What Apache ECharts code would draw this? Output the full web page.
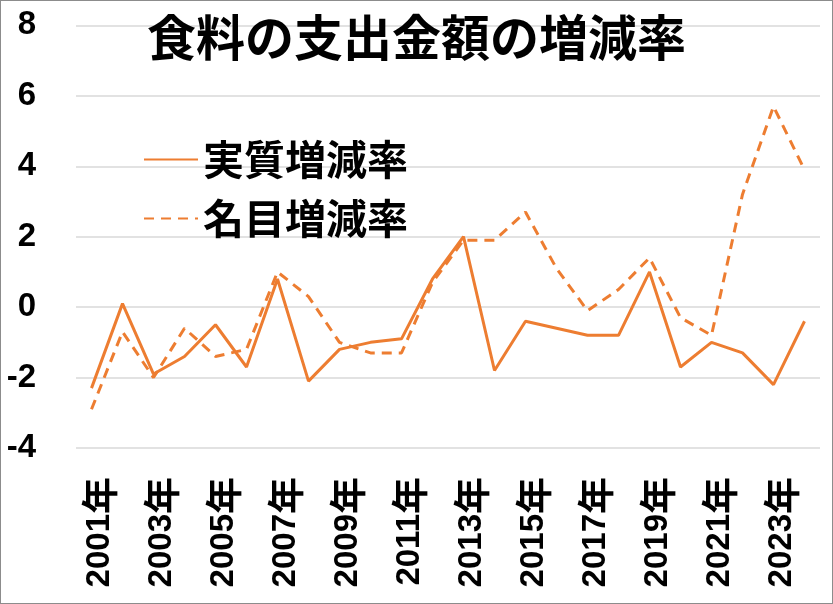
<!DOCTYPE html>
<html>
<head>
<meta charset="utf-8">
<script src="https://cdn.jsdelivr.net/npm/echarts@6/dist/echarts.min.js"></script>
<style>
html,body{margin:0;padding:0;background:#fff;}
#wrap{position:relative;width:833px;height:604px;}
#chart{width:833px;height:604px;}
#frame{position:absolute;left:0;top:0;width:833px;height:604px;box-sizing:border-box;border:1px solid #8c8c8c;pointer-events:none;}
</style>
</head>
<body>
<div id="wrap"><div id="chart"></div><div id="frame"></div></div>
<script>
const categories = ['2001','2002','2003','2004','2005','2006','2007','2008','2009','2010','2011','2012','2013','2014','2015','2016','2017','2018','2019','2020','2021','2022','2023','2024'];
const yearSuffix = '年';
const realRate = [-2.3, 0.1, -1.9, -1.4, -0.5, -1.7, 0.8, -2.1, -1.2, -1.0, -0.9, 0.8, 2.0, -1.8, -0.4, -0.6, -0.8, -0.8, 1.0, -1.7, -1.0, -1.3, -2.2, -0.4];
const nominalRate = [-2.9, -0.7, -2.0, -0.6, -1.4, -1.2, 1.0, 0.3, -1.0, -1.3, -1.3, 0.7, 1.9, 1.9, 2.7, 1.1, -0.1, 0.5, 1.4, -0.3, -0.8, 3.2, 5.7, 3.9];
const seriesNames = ['実質増減率', '名目増減率'];
const titleText = '食料の支出金額の増減率';
const yMin = -4, yMax = 8, yStep = 2;

const color = '#ED7D31';
const chart = echarts.init(document.getElementById('chart'));
chart.setOption({
  animation: false,
  backgroundColor: '#fff',
  title: {
    text: titleText,
    left: 'center',
    top: 13,
    padding: 0,
    textStyle: {fontFamily: 'Noto Sans CJK JP', fontSize: 49, fontWeight: 'bold', color: '#000'}
  },
  legend: {
    orient: 'vertical',
    left: 143,
    top: 139,
    padding: 0,
    itemWidth: 54,
    itemHeight: 14,
    itemGap: 18,
    itemStyle: {color: 'rgba(0,0,0,0)', borderWidth: 0, opacity: 0},
    textStyle: {fontFamily: 'Noto Sans CJK JP', fontSize: 41, fontWeight: 'bold', color: '#000', lineHeight: 40}
  },
  grid: {left: 76, right: 13, top: 25.4, bottom: 156},
  xAxis: {
    type: 'category',
    data: categories,
    boundaryGap: true,
    axisLine: {show: false},
    axisTick: {show: false},
    axisLabel: {
      interval: 1,
      rotate: 90,
      margin: 29,
      color: '#000',
      padding: [16, 0, 0, 0],
      formatter: function (v) { return '{d|' + v + '}{n|' + yearSuffix + '}'; },
      rich: {
        d: {fontFamily: 'Liberation Sans', fontWeight: 'bold', fontSize: 33, color: '#000'},
        n: {fontFamily: 'Noto Sans CJK JP', fontWeight: 'bold', fontSize: 37, color: '#000'}
      }
    }
  },
  yAxis: {
    type: 'value',
    min: yMin,
    max: yMax,
    interval: yStep,
    axisLine: {show: false},
    axisTick: {show: false},
    splitLine: {lineStyle: {color: '#D9D9D9', width: 1.5}},
    axisLabel: {
      margin: 40,
      color: '#000',
      fontFamily: 'Liberation Sans',
      fontWeight: 'bold',
      fontSize: 33
    }
  },
  series: [
    {
      name: seriesNames[0],
      type: 'line',
      data: realRate,
      symbol: 'none',
      lineStyle: {color: color, width: 3, type: 'solid'},
      itemStyle: {color: color}
    },
    {
      name: seriesNames[1],
      type: 'line',
      data: nominalRate,
      symbol: 'none',
      lineStyle: {color: color, width: 3, type: [10, 7]},
      itemStyle: {color: color}
    }
  ]
});
</script>
</body>
</html>
